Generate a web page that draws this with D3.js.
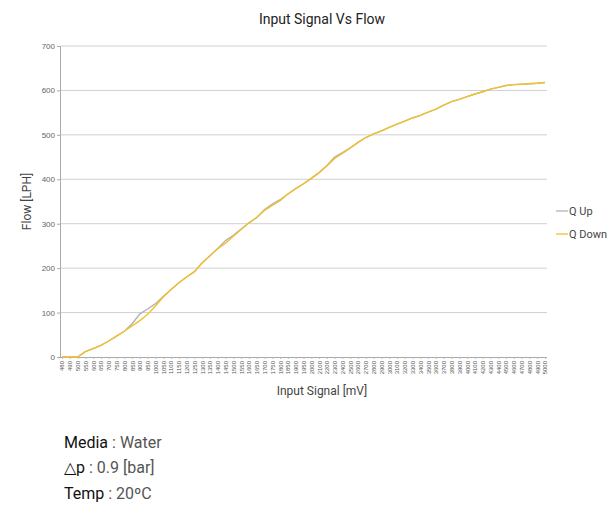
<!DOCTYPE html>
<html>
<head>
<meta charset="utf-8">
<script src="https://cdn.jsdelivr.net/npm/d3@7"></script>
<style>
  body { margin: 0; background: #fff; font-family: Roboto, "Open Sans", sans-serif; overflow: hidden; }
  .info { position: absolute; left: 64px; font-size: 16px; color: #555; }
  .info b { font-weight: 400; color: #111; }
</style>
</head>
<body>
<div id="chart"></div>
<div class="info" style="top:433px"><b>Media</b> : Water</div>
<div class="info" style="top:458px"><b>△p</b> : 0.9 [bar]</div>
<div class="info" style="top:484px"><b>Temp</b> : 20ºC</div>
<script>
// Data
const signal = [480, 490, 500, 550, 600, 650, 700, 750, 800, 850, 900, 950, 1000,
  1050, 1100, 1150, 1200, 1250, 1300, 1350, 1400, 1450, 1500, 1550, 1600, 1650,
  1700, 1750, 1800, 1850, 1900, 1950, 2000, 2100, 2200, 2300, 2400, 2500, 2600,
  2700, 2800, 2900, 3000, 3100, 3200, 3300, 3400, 3500, 3600, 3700, 3800, 3900,
  4000, 4100, 4200, 4300, 4400, 4500, 4600, 4700, 4800, 4900, 5000]

const qUp = [0, 0, 0, 12, 19, 26, 36, 47, 58, 75, 97, 108, 120, 136, 152, 167,
  180, 192, 212, 228, 244, 262, 274, 288, 302, 314, 332, 344, 354, 367, 379, 390,
  402, 415, 431, 450, 460, 471, 483, 494, 502, 509, 517, 524, 531, 538, 544, 551,
  558, 567, 575, 580, 586, 592, 597, 603, 607, 611, 613, 614, 615, 616, 618]

const qDown = [0, 0, 0, 12, 19, 26, 36, 47, 58, 70, 82, 96, 115, 135, 152, 167,
  180, 192, 212, 228, 244, 256, 272, 287, 302, 314, 330, 341, 352, 367, 379, 390,
  402, 415, 430, 447, 458, 470, 483, 494, 502, 509, 517, 524, 531, 538, 544, 551,
  558, 567, 575, 580, 586, 592, 597, 603, 607, 611, 613, 614, 615, 616, 618]

const yTicks = [0, 100, 200, 300, 400, 500, 600, 700]

const series = [
  { name: 'Q Up', values: qUp, color: '#b3b3b3' },
  { name: 'Q Down', values: qDown, color: '#f2c12e' },
]

// Dimensions
const width = 608
const height = 420
const margin = { top: 46, right: 63, bottom: 63, left: 62 }

const svg = d3.select('#chart')
  .append('svg')
  .attr('width', width)
  .attr('height', height)
  .style('position', 'absolute')
  .style('left', 0)
  .style('top', 0)

// Scales
const x = d3.scalePoint()
  .domain(signal)
  .range([margin.left, width - margin.right])

const y = d3.scaleLinear()
  .domain([0, 700])
  .range([height - margin.bottom, margin.top])

// Grid
svg.append('g')
  .selectAll('line')
  .data(yTicks.slice(1))
  .join('line')
  .attr('x1', margin.left - 2)
  .attr('x2', width - margin.right + 2)
  .attr('y1', d => y(d))
  .attr('y2', d => y(d))
  .attr('stroke', '#d0d0d0')

// Y axis
const yAxis = svg.append('g')
  .attr('transform', `translate(${margin.left - 2},0)`)
  .call(d3.axisLeft(y).tickValues(yTicks).tickSize(3).tickPadding(2))
yAxis.select('.domain').attr('stroke', '#aaa')
yAxis.selectAll('.tick line').attr('stroke', '#aaa')
yAxis.selectAll('text').attr('fill', '#666').style('font-size', '8px')

// X axis
const xAxis = svg.append('g')
  .attr('transform', `translate(0,${height - margin.bottom})`)
  .call(d3.axisBottom(x).tickSize(2).tickSizeOuter(0))
xAxis.select('.domain').attr('stroke', '#aaa')
  .attr('d', `M${margin.left - 2},0.5H${width - margin.right + 2}`)
xAxis.selectAll('.tick line').attr('stroke', '#bbb')
xAxis.selectAll('text')
  .attr('fill', '#555')
  .style('font-size', '6px')
  .attr('text-anchor', 'end')
  .attr('transform', 'rotate(-90)')
  .attr('x', -4)
  .attr('y', 0)
  .attr('dy', '0.32em')

// Lines
const line = d3.line()
  .x((d, i) => x(signal[i]))
  .y(d => y(d))

svg.append('g')
  .selectAll('path')
  .data(series)
  .join('path')
  .attr('fill', 'none')
  .attr('stroke', d => d.color)
  .attr('stroke-width', 1.4)
  .attr('d', d => line(d.values))

// Titles
svg.append('text')
  .attr('x', 322)
  .attr('y', 24)
  .attr('text-anchor', 'middle')
  .attr('fill', '#222')
  .style('font-size', '14px')
  .text('Input Signal Vs Flow')

svg.append('text')
  .attr('x', 322)
  .attr('y', 395)
  .attr('text-anchor', 'middle')
  .attr('fill', '#444')
  .style('font-size', '12px')
  .text('Input Signal [mV]')

svg.append('text')
  .attr('transform', `translate(31,${y(350)}) rotate(-90)`)
  .attr('text-anchor', 'middle')
  .attr('fill', '#444')
  .style('font-size', '12px')
  .text('Flow [LPH]')

// Legend
const legend = svg.append('g')
  .selectAll('g')
  .data(series)
  .join('g')
  .attr('transform', (d, i) => `translate(556,${211 + i * 23})`)

legend.append('line')
  .attr('x1', 0)
  .attr('x2', 12)
  .attr('stroke', d => d.color)
  .attr('stroke-width', 1.3)

legend.append('text')
  .attr('x', 13)
  .attr('dy', '0.35em')
  .attr('fill', '#444')
  .style('font-size', '11px')
  .text(d => d.name)
</script>
</body>
</html>
